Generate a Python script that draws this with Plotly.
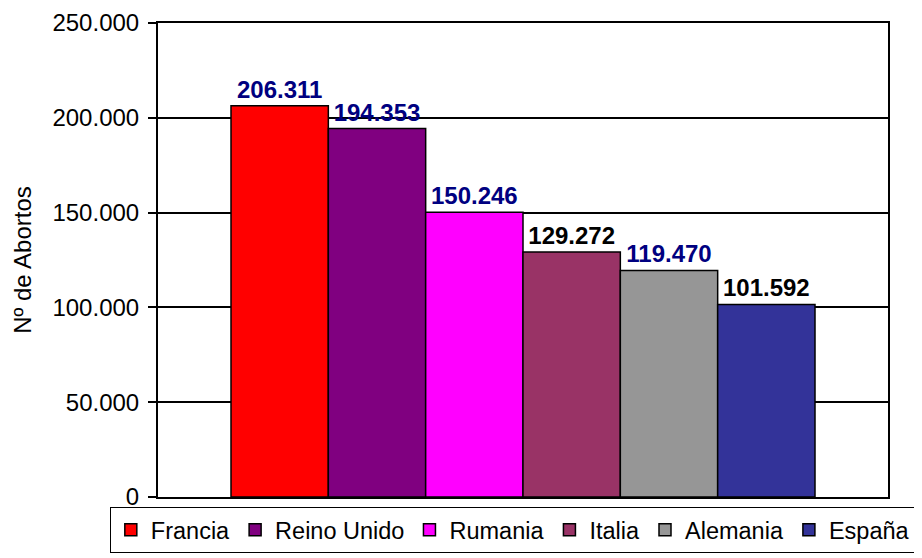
import plotly.graph_objects as go

# Nº de abortos por país
paises = ["Francia", "Reino Unido", "Rumania", "Italia", "Alemania", "España"]
abortos = [206311, 194353, 150246, 129272, 119470, 101592]
colores = ["#FF0000", "#800080", "#FF00FF", "#993366", "#969696", "#333399"]
color_etiqueta = ["#000080", "#000080", "#000080", "#000000", "#000080", "#000000"]

FONT = "Arial, Liberation Sans, sans-serif"

fig = go.Figure()
for pais, val, col, tcol in zip(paises, abortos, colores, color_etiqueta):
    fig.add_trace(go.Bar(
        x=["Abortos"], y=[val], name=pais,
        marker=dict(color=col, line=dict(color="black", width=1.5)),
        texttemplate="%{y:,.0f}", textposition="outside",
        textfont=dict(family=FONT, size=24, color=tcol, weight="bold"),
        cliponaxis=False))

# the page body adds an 8px offset, so the figure is 8px smaller here
fig.update_layout(
    width=914, height=550,
    barmode="group", bargap=0.2, bargroupgap=0,
    separators=",.",
    font=dict(family=FONT, size=24, color="black"),
    plot_bgcolor="white", paper_bgcolor="white",
    margin=dict(l=150, r=34, t=15, b=61, autoexpand=False),
    xaxis=dict(showticklabels=False, ticks="", showline=True, mirror=True,
               linecolor="black", linewidth=2, showgrid=False, automargin=False),
    yaxis=dict(range=[0, 250000], dtick=50000, tickformat=",d",
               ticks="outside", ticklen=8, tickwidth=1.5, tickcolor="black",
               ticklabelstandoff=4,
               showline=True, mirror=True, linecolor="black", linewidth=2,
               gridcolor="black", gridwidth=1.5, automargin=False,
               title=dict(text="Nº de Abortos", font=dict(size=24), standoff=14)),
    legend=dict(orientation="h", x=-0.066, xanchor="left", y=-0.021, yanchor="top",
                bordercolor="black", borderwidth=1, bgcolor="white",
                font=dict(size=23.5), traceorder="normal"),
    showlegend=True,
)

fig.write_html("out.html")
